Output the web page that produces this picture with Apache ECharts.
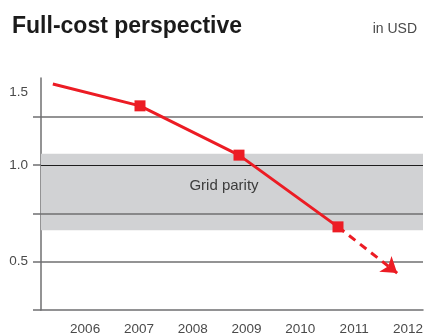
<!DOCTYPE html>
<html>
<head>
<meta charset="utf-8">
<script src="https://cdn.jsdelivr.net/npm/echarts@6/dist/echarts.min.js"></script>
<style>
  html, body { margin: 0; padding: 0; background: #fff; }
  #chart { width: 426px; height: 336px; }
</style>
</head>
<body>
<div id="chart"></div>
<script>
// Cost trajectory (USD), solid part of the curve
const years = [2005.40, 2007.02, 2008.86, 2010.70];
const costs = [1.419, 1.306, 1.051, 0.680];
// Projected continuation (dashed arrow)
const projYears = [2010.70, 2011.80];
const projCosts = [0.680, 0.441];
// Grid-parity band
const parityBand = [0.662, 1.058];
const parityLabel = 'Grid parity';
// Axis ticks and labels
const yearTicks = [2006, 2007, 2008, 2009, 2010, 2011, 2012];
const gridValues = [0.5, 0.75, 1.0, 1.25];
const yTickValues = [0.25, 0.5, 0.75, 1.0, 1.25];
const yLabelValues = [0.5, 1.0];
const topLabel = '1.5';

const RED = '#ec1c24';
const GRID = '#6f6f71';
const FONT = '"Liberation Sans", Arial, Helvetica, sans-serif';

const pointSymbols = years.map((y, i) => i === 0 ? 'none' : 'rect');

const chart = echarts.init(document.getElementById('chart'), null, { renderer: 'canvas' });
chart.setOption({
  animation: false,
  backgroundColor: '#ffffff',
  textStyle: { fontFamily: FONT },
  title: [
    {
      text: 'Full-cost perspective',
      left: 7, top: 10,
      textStyle: { fontFamily: FONT, fontSize: 23, fontWeight: 'bold', color: '#1b1b1b' }
    },
    {
      text: 'in USD',
      right: 4, top: 17,
      textStyle: { fontFamily: FONT, fontSize: 14, fontWeight: 'normal', color: '#4a4a4a' }
    }
  ],
  graphic: [
    {
      type: 'text', right: 426 - 28, top: 85,
      style: { text: topLabel, font: '13.5px ' + FONT, fill: '#4a4a4a', textAlign: 'right' }
    }
  ],
  grid: { left: 41, right: 3, top: 78, bottom: 25, containLabel: false },
  xAxis: {
    type: 'value',
    min: 2005.18,
    max: 2012.28,
    splitLine: { show: false },
    axisTick: { show: false },
    axisLine: { show: true, lineStyle: { color: GRID, width: 1.5 } },
    axisLabel: {
      customValues: yearTicks,
      formatter: v => String(Math.round(v)),
      color: '#4a4a4a', fontSize: 13.5, fontFamily: FONT, margin: 12
    }
  },
  yAxis: {
    type: 'value',
    min: 0.25,
    max: 1.45,
    interval: 0.25,
    splitLine: { show: false },
    axisLine: { show: true, lineStyle: { color: GRID, width: 1.5 } },
    axisTick: {
      show: true, length: 8, customValues: yTickValues,
      lineStyle: { color: GRID, width: 1.5 }
    },
    axisLabel: {
      customValues: yLabelValues,
      formatter: v => v.toFixed(1),
      color: '#4a4a4a', fontSize: 13.5, fontFamily: FONT, margin: 13
    }
  },
  series: [
    {
      // band and horizontal gridlines
      type: 'line',
      data: [],
      z: 1,
      silent: true,
      markArea: {
        silent: true,
        itemStyle: { color: '#d1d2d4' },
        label: {
          show: true, position: 'inside', offset: [-8, -6],
          color: '#3c3c3c', fontSize: 15, fontFamily: FONT
        },
        data: [[
          { name: parityLabel, yAxis: parityBand[0], xAxis: 'min' },
          { yAxis: parityBand[1], xAxis: 'max' }
        ]]
      },
      markLine: {
        silent: true,
        symbol: ['none', 'none'],
        label: { show: false },
        data: gridValues.map(v => ({
          yAxis: v,
          lineStyle: {
            type: 'solid',
            color: v === 1.0 ? '#1e1e1e' : GRID,
            width: v === 1.0 ? 1.2 : 1.5
          }
        }))
      }
    },
    {
      type: 'line',
      z: 5,
      data: years.map((x, i) => [x, costs[i]]),
      symbol: (v, p) => pointSymbols[p.dataIndex],
      symbolSize: 11,
      showSymbol: true,
      lineStyle: { color: RED, width: 3 },
      itemStyle: { color: RED },
      markLine: {
        silent: true,
        symbol: ['none', 'arrow'],
        symbolSize: 15,
        label: { show: false },
        lineStyle: { color: RED, width: 3, type: [8, 6] },
        itemStyle: { color: RED },
        data: [[
          { coord: [projYears[0], projCosts[0]] },
          { coord: [projYears[1], projCosts[1]] }
        ]]
      }
    }
  ]
});
</script>
</body>
</html>
